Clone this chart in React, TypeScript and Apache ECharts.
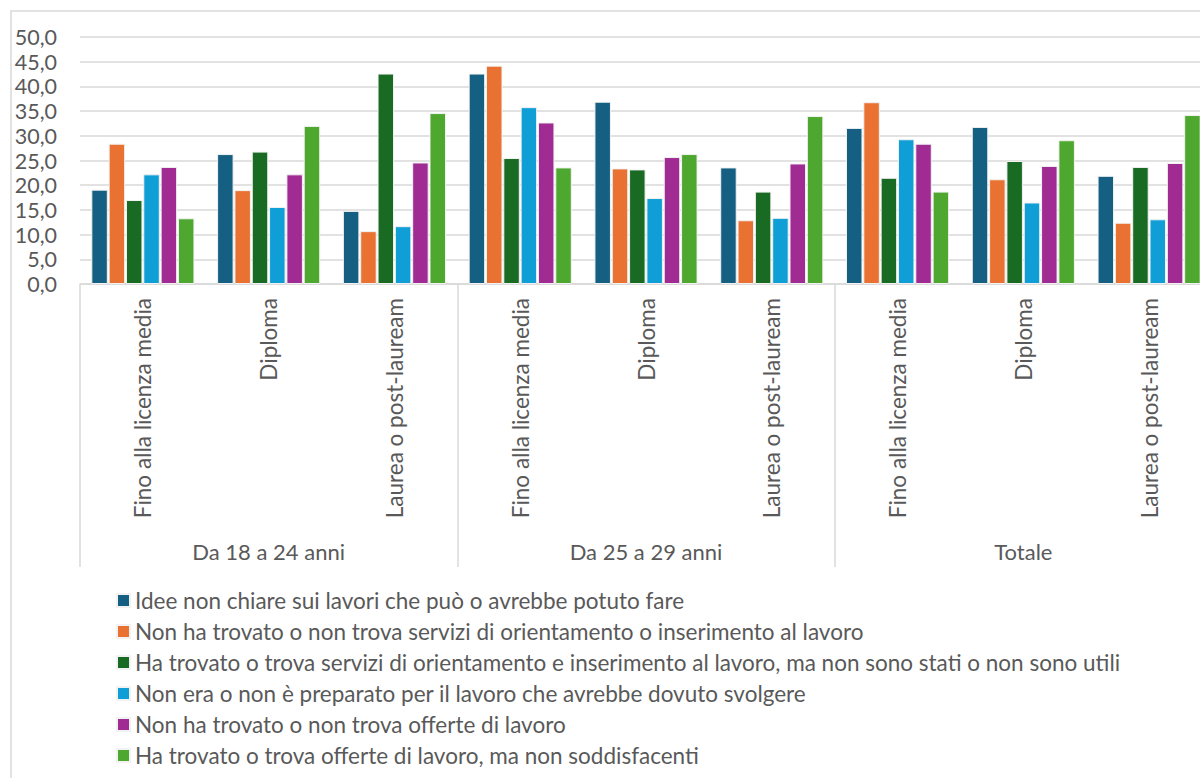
import React, { useEffect, useRef } from "react";
import * as echarts from "echarts";

const subCategories = [
  "Fino alla licenza media", "Diploma", "Laurea o post-lauream",
  "Fino alla licenza media", "Diploma", "Laurea o post-lauream",
  "Fino alla licenza media", "Diploma", "Laurea o post-lauream",
];
const groups = ["Da 18 a 24 anni", "Da 25 a 29 anni", "Totale"];

const seriesNames = [
  "Idee non chiare sui lavori che può o avrebbe potuto fare",
  "Non ha trovato o non trova servizi di orientamento o inserimento al lavoro",
  "Ha trovato o trova servizi di orientamento e inserimento al lavoro, ma non sono stati o non sono utili",
  "Non era o non è preparato per il lavoro che avrebbe dovuto svolgere",
  "Non ha trovato o non trova offerte di lavoro",
  "Ha trovato o trova offerte di lavoro, ma non soddisfacenti",
];

const ideeNonChiare = [19.1, 26.3, 14.8, 42.6, 36.9, 23.6, 31.6, 31.8, 21.9];
const nonTrovaServizi = [28.4, 19.0, 10.7, 44.2, 23.4, 12.9, 36.8, 21.2, 12.4];
const serviziNonUtili = [17.0, 26.8, 42.6, 25.5, 23.2, 18.7, 21.5, 24.9, 23.7];
const nonPreparato = [22.2, 15.6, 11.7, 35.8, 17.4, 13.4, 29.3, 16.5, 13.1];
const nonTrovaOfferte = [23.7, 22.2, 24.6, 32.7, 25.7, 24.4, 28.4, 23.9, 24.5];
const offerteNonSoddisfacenti = [13.3, 32.0, 34.6, 23.6, 26.3, 34.0, 18.7, 29.1, 34.2];

const seriesValues = [
  ideeNonChiare, nonTrovaServizi, serviziNonUtili,
  nonPreparato, nonTrovaOfferte, offerteNonSoddisfacenti,
];
const colors = ["#156082", "#E97132", "#196B24", "#0F9ED5", "#A02B93", "#4EA72E"];

const FONT = "Lato";

export default function App() {
  const ref = useRef<HTMLDivElement>(null);
  useEffect(() => {
    if (!ref.current) return;
    const chart = echarts.init(ref.current, undefined, { renderer: "svg" });
    chart.setOption({
      animation: false,
      textStyle: { fontFamily: FONT },
      grid: { left: 80, right: 0, top: 37, bottom: 494, containLabel: false },
      graphic: [
        {
          type: "rect",
          shape: { x: 11, y: 11, width: 1400, height: 1000 },
          style: { fill: "none", stroke: "#d9d9d9", lineWidth: 1.5 },
          z: -1,
        },
      ],
      legend: {
        orient: "vertical",
        left: 116,
        top: 589,
        padding: 0,
        itemWidth: 13,
        itemHeight: 13,
        itemGap: 8,
        icon: "rect",
        textStyle: { fontFamily: FONT, fontSize: 22.5, lineHeight: 23, color: "#595959" },
        data: seriesNames,
      },
      xAxis: [
        {
          type: "category",
          data: subCategories,
          axisLine: { lineStyle: { color: "#d9d9d9", width: 1.5 } },
          axisTick: { show: false },
          axisLabel: {
            rotate: 90,
            margin: 14,
            fontSize: 22.5,
            color: "#595959",
            fontFamily: FONT,
            interval: 0,
          },
        },
        {
          type: "category",
          data: groups,
          position: "bottom",
          axisLine: { show: false },
          axisTick: {
            show: true,
            length: 283,
            lineStyle: { color: "#d9d9d9", width: 1.5 },
          },
          axisLabel: { margin: 256, fontSize: 22, color: "#595959", fontFamily: FONT },
        },
      ],
      yAxis: {
        type: "value",
        min: 0,
        max: 50,
        interval: 5,
        axisLine: { show: false },
        axisTick: { show: false },
        splitLine: { lineStyle: { color: "#d9d9d9", width: 1.5 } },
        axisLabel: {
          fontSize: 21.5,
          color: "#595959",
          fontFamily: FONT,
          margin: 23,
          formatter: (v: number) => v.toFixed(1).replace(".", ","),
        },
      },
      series: seriesNames.map((name, i) => ({
        name,
        type: "bar",
        xAxisIndex: 0,
        data: seriesValues[i],
        barWidth: 16.5,
        barGap: "5%",
        itemStyle: { color: colors[i], borderColor: "#f2f2f2", borderWidth: 1 },
      })),
    });
    return () => chart.dispose();
  }, []);
  return (
    <div
      style={{
        position: "fixed",
        left: 0,
        top: 0,
        width: 1200,
        height: 778,
        overflow: "hidden",
        background: "#fff",
      }}
    >
      <div ref={ref} style={{ width: 1212, height: 778 }} />
    </div>
  );
}
